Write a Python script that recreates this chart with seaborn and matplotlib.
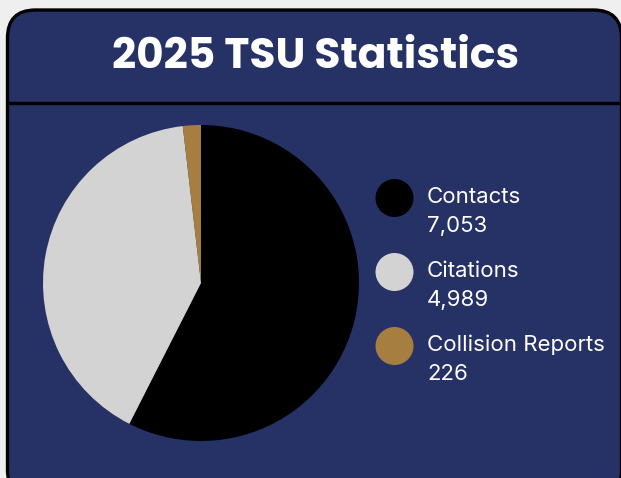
import matplotlib
matplotlib.use("Agg")
import matplotlib.pyplot as plt
from matplotlib.patches import FancyBboxPatch, Circle
import seaborn as sns

# Data
categories = ["Contacts", "Citations", "Collision Reports"]
counts = [7053, 4989, 226]
slice_colors = ["#000000", "#d3d3d3", "#a67f40"]
title_text = "2025 TSU Statistics"

sns.set_theme(style="white")
plt.rcParams["font.family"] = ["Inter", "DejaVu Sans"]

W, H = 621, 478
fig = plt.figure(figsize=(W / 100, H / 100), dpi=100)
fig.patch.set_facecolor("#efefef")

# Background layer in pixel units
bg = fig.add_axes([0, 0, 1, 1])
bg.set_xlim(0, W)
bg.set_ylim(0, H)
bg.axis("off")

navy = "#263266"
panel = FancyBboxPatch((7.5, -20), 614, H - 10 + 20,
                       boxstyle="round,pad=0,rounding_size=28",
                       facecolor=navy, edgecolor="black", linewidth=2.4)
bg.add_patch(panel)
bg.plot([7, W], [H - 103, H - 103], color="black", linewidth=2.4,
        solid_capstyle="butt")
bg.text(316, H - 68, title_text, ha="center", va="baseline", color="white",
        fontsize=30.5, fontweight="bold", family=["Poppins", "Lato", "DejaVu Sans"])

# Pie
ax = fig.add_axes([43 / W, 37 / H, 316 / W, 316 / H])
ax.pie(counts, colors=slice_colors, startangle=90, counterclock=False,
       wedgeprops=dict(linewidth=0))
ax.set_xlim(-1, 1)
ax.set_ylim(-1, 1)
ax.set_aspect("equal")
ax.axis("off")

# Legend
for i, (name, val, col) in enumerate(zip(categories, counts, slice_colors)):
    cy = H - (198 + 74 * i)
    bg.add_patch(Circle((394.5, cy), 19, facecolor=col, edgecolor="none"))
    bg.text(427, cy - 5, name, ha="left", va="baseline", color="white",
            fontsize=16)
    bg.text(427, cy - 34, f"{val:,}", ha="left", va="baseline", color="white",
            fontsize=16)

fig.savefig("out.png", dpi=100, facecolor=fig.get_facecolor())
